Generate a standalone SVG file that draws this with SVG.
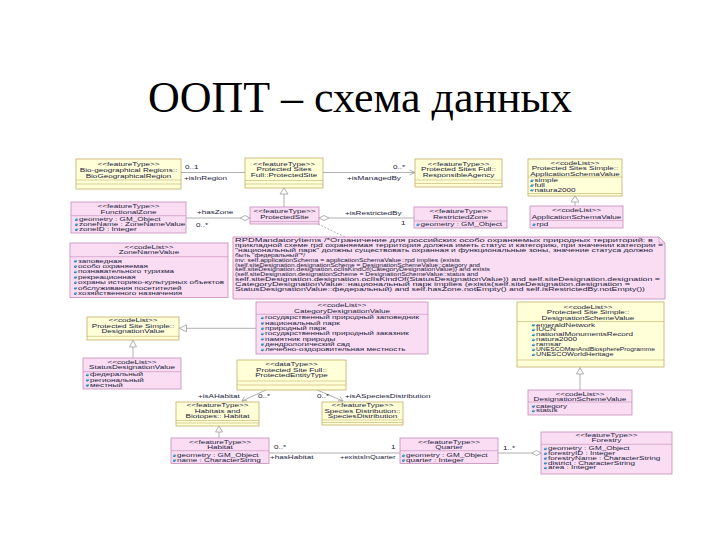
<svg xmlns="http://www.w3.org/2000/svg" xmlns:xlink="http://www.w3.org/1999/xlink" width="720" height="540" viewBox="0 0 720 540">
<style>
.y{fill:#FFFFD8;stroke:#C2AC68;stroke-width:0.8}
.p{fill:#FADDF3;stroke:#C48CBA;stroke-width:0.8}
.sy{stroke:#C2AC68;stroke-width:0.6}
.sp{stroke:#C48CBA;stroke-width:0.6}
.t{font-family:"Liberation Sans",Arial,sans-serif;font-size:5.6px;fill:#22223a}
.m{text-anchor:middle}
.n{font-family:"Liberation Sans",Arial,sans-serif;font-size:5.2px;fill:#22223a}
.ln{stroke:#9c9c9c;stroke-width:0.8;fill:none}
.gen{fill:#ffffff;stroke:#9c9c9c;stroke-width:0.8}
.ttl{font-family:"Liberation Serif","Times New Roman",serif;font-size:44px;fill:#000}
</style>
<defs>
<symbol id="ic" viewBox="0 0 4 3" width="4" height="3"><polygon points="0,2.2 1.6,0 4,0.7 2.4,3" fill="#2f86b4"/><polygon points="1.6,0 4,0.7 2.8,1.4 0.8,1" fill="#8cc8e4"/></symbol>
</defs>
<rect width="720" height="540" fill="#ffffff"/>
<text class="ttl" x="360" y="112" text-anchor="middle">ООПТ – схема данных</text>

<g id="connectors">
<line class="ln" x1="181" y1="172.5" x2="245" y2="172.5"/>
<line class="ln" x1="323" y1="172.5" x2="415" y2="172.5"/>
<polyline class="ln" points="409.5,170 415,172.5 409.5,175"/>
<line class="ln" x1="284" y1="194" x2="284" y2="207"/>
<polygon class="gen" points="284,188 280,194 288,194"/>
<line class="ln" x1="575" y1="202" x2="575" y2="206"/>
<polygon class="gen" points="575,196 571,202 579,202"/>
<line class="ln" x1="186" y1="218" x2="240" y2="218"/>
<polygon class="gen" points="240,218 245,215.5 250,218 245,220.5"/>
<line class="ln" x1="329" y1="218" x2="414" y2="218"/>
<polygon class="gen" points="319,218 324,215.5 329,218 324,220.5"/>
<line class="ln" x1="318" y1="224" x2="345" y2="237" stroke-dasharray="2,1.5"/>
<line class="ln" x1="187" y1="328.3" x2="256" y2="328.3"/>
<polygon class="gen" points="179.5,328.3 186.5,324.8 186.5,331.8"/>
<line class="ln" x1="133" y1="347" x2="133" y2="358"/>
<polygon class="gen" points="133,340 129.5,347 136.5,347"/>
<line class="ln" x1="580" y1="374" x2="580" y2="390"/>
<polygon class="gen" points="580,367.5 576.5,374 583.5,374"/>
<line class="ln" x1="266" y1="390" x2="242" y2="401"/>
<polyline class="ln" points="244.5,396.6 242,401 247,400.6"/>
<line class="ln" x1="317" y1="390" x2="343" y2="401"/>
<polyline class="ln" points="338,400.8 343,401 340.2,396.8"/>
<line class="ln" x1="219" y1="432" x2="219" y2="438"/>
<polygon class="gen" points="219,426 215.5,432 222.5,432"/>
<line class="ln" x1="269" y1="453" x2="400" y2="453"/>
<line class="ln" x1="498" y1="453" x2="532" y2="453"/>
<polygon class="gen" points="532,453 536.5,450.5 541,453 536.5,455.5"/>
<text class="t" transform="translate(185 169) scale(1.45 1)">0..1</text>
<text class="t" transform="translate(184 180) scale(1.45 1)">+isInRegion</text>
<text class="t" transform="translate(393 169) scale(1.45 1)">0..*</text>
<text class="t" transform="translate(347 179.5) scale(1.45 1)">+isManagedBy</text>
<text class="t" transform="translate(197 214) scale(1.45 1)">+hasZone</text>
<text class="t" transform="translate(196 227) scale(1.45 1)">0..*</text>
<text class="t" transform="translate(345 215) scale(1.45 1)">+isRestrictedBy</text>
<text class="t" transform="translate(401 225) scale(1.45 1)">1</text>
<text class="t" transform="translate(198 397.5) scale(1.45 1)">+isAHabitat</text>
<text class="t" transform="translate(258 397.5) scale(1.45 1)">0..*</text>
<text class="t" transform="translate(317 397.5) scale(1.45 1)">0..*</text>
<text class="t" transform="translate(345 397.5) scale(1.45 1)">+isASpeciesDistribution</text>
<text class="t" transform="translate(274 448.5) scale(1.45 1)">0..*</text>
<text class="t" transform="translate(270 458.5) scale(1.45 1)">+hasHabitat</text>
<text class="t" transform="translate(391 448.5) scale(1.45 1)">1</text>
<text class="t" transform="translate(340 458.5) scale(1.35 1)">+existsInQuarter</text>
<text class="t" transform="translate(503 450) scale(1.45 1)">1..*</text>
</g>

<g id="bioRegion">
<rect class="y" x="76" y="159" width="105" height="30"/>
<line class="sy" x1="76" y1="180" x2="181" y2="180"/><line class="sy" x1="76" y1="184" x2="181" y2="184"/>
<text class="t m" transform="translate(128.5 166) scale(1.45 1)">&lt;&lt;featureType&gt;&gt;</text>
<text class="t m" transform="translate(128.5 172) scale(1.45 1)">Bio-geographical Regions::</text>
<text class="t m" transform="translate(128.5 177.5) scale(1.45 1)">BioGeographicalRegion</text>
</g>

<g id="protectedSiteFull">
<rect class="y" x="245" y="158" width="78" height="30"/>
<line class="sy" x1="245" y1="180.5" x2="323" y2="180.5"/><line class="sy" x1="245" y1="184" x2="323" y2="184"/>
<text class="t m" transform="translate(284 165.5) scale(1.45 1)">&lt;&lt;featureType&gt;&gt;</text>
<text class="t m" transform="translate(284 171) scale(1.45 1)">Protected Sites</text>
<text class="t m" transform="translate(284 176.5) scale(1.45 1)">Full::ProtectedSite</text>
</g>

<g id="responsibleAgency">
<rect class="y" x="415" y="159" width="87" height="28"/>
<line class="sy" x1="415" y1="180" x2="502" y2="180"/><line class="sy" x1="415" y1="183.5" x2="502" y2="183.5"/>
<text class="t m" transform="translate(458.5 165.5) scale(1.45 1)">&lt;&lt;featureType&gt;&gt;</text>
<text class="t m" transform="translate(458.5 171) scale(1.45 1)">Protected Sites Full::</text>
<text class="t m" transform="translate(458.5 176.5) scale(1.45 1)">ResponsibleAgency</text>
</g>

<g id="appSchemaSimple">
<rect class="y" x="528" y="159" width="94" height="37"/>
<line class="sy" x1="528" y1="177" x2="622" y2="177"/><line class="sy" x1="528" y1="193.5" x2="622" y2="193.5"/>
<text class="t m" transform="translate(575 164.5) scale(1.45 1)">&lt;&lt;codeList&gt;&gt;</text>
<text class="t m" transform="translate(575 170) scale(1.45 1)">Protected Sites Simple::</text>
<text class="t m" transform="translate(575 175.5) scale(1.45 1)">ApplicationSchemaValue</text>
<use xlink:href="#ic" x="530" y="179.2"/><text class="t" transform="translate(534.5 182) scale(1.45 1)">simple</text>
<use xlink:href="#ic" x="530" y="184"/><text class="t" transform="translate(534.5 186.8) scale(1.45 1)">full</text>
<use xlink:href="#ic" x="530" y="188.8"/><text class="t" transform="translate(534.5 191.6) scale(1.45 1)">natura2000</text>
</g>

<g id="appSchemaValue">
<rect class="p" x="530" y="206" width="93" height="22"/>
<line class="sp" x1="530" y1="220.5" x2="623" y2="220.5"/>
<text class="t m" transform="translate(576.5 212.3) scale(1.45 1)">&lt;&lt;codeList&gt;&gt;</text>
<text class="t m" transform="translate(576.5 218.5) scale(1.45 1)">ApplicationSchemaValue</text>
<use xlink:href="#ic" x="532" y="223.2"/><text class="t" transform="translate(536.5 226) scale(1.45 1)">rpd</text>
</g>

<g id="restrictedZone">
<rect class="p" x="414" y="207" width="93" height="21"/>
<line class="sp" x1="414" y1="221" x2="507" y2="221"/>
<text class="t m" transform="translate(460.5 213) scale(1.45 1)">&lt;&lt;featureType&gt;&gt;</text>
<text class="t m" transform="translate(460.5 218.8) scale(1.45 1)">RestrictedZone</text>
<use xlink:href="#ic" x="416" y="223.2"/><text class="t" transform="translate(420.5 226) scale(1.45 1)">geometry : GM_Object</text>
</g>

<g id="protectedSite">
<rect class="p" x="250" y="207" width="69" height="17"/>
<line class="sp" x1="250" y1="221.5" x2="319" y2="221.5"/>
<text class="t m" transform="translate(284.5 213.3) scale(1.45 1)">&lt;&lt;featureType&gt;&gt;</text>
<text class="t m" transform="translate(284.5 219.3) scale(1.45 1)">ProtectedSite</text>
</g>

<g id="functionalZone">
<rect class="p" x="71" y="202" width="115" height="31"/>
<line class="sp" x1="71" y1="215.7" x2="186" y2="215.7"/>
<text class="t m" transform="translate(128.5 208.3) scale(1.45 1)">&lt;&lt;featureType&gt;&gt;</text>
<text class="t m" transform="translate(128.5 213.8) scale(1.45 1)">FunctionalZone</text>
<use xlink:href="#ic" x="74.5" y="218.2"/><text class="t" transform="translate(79 221) scale(1.45 1)">geometry : GM_Object</text>
<use xlink:href="#ic" x="74.5" y="223.2"/><text class="t" transform="translate(79 226) scale(1.45 1)">zoneName : ZoneNameValue</text>
<use xlink:href="#ic" x="74.5" y="228.2"/><text class="t" transform="translate(79 231) scale(1.45 1)">zoneID : Integer</text>
</g>

<g id="zoneNameValue">
<rect class="p" x="70" y="243" width="158" height="54.5"/>
<line class="sp" x1="70" y1="256.7" x2="228" y2="256.7"/>
<text class="t m" transform="translate(149 249) scale(1.45 1)">&lt;&lt;codeList&gt;&gt;</text>
<text class="t m" transform="translate(149 254.3) scale(1.45 1)">ZoneNameValue</text>
<use xlink:href="#ic" x="73.5" y="259.7"/><text class="t" transform="translate(78 262.5) scale(1.45 1)">заповедная</text>
<use xlink:href="#ic" x="73.5" y="265.1"/><text class="t" transform="translate(78 267.9) scale(1.45 1)">особо охраняемая</text>
<use xlink:href="#ic" x="73.5" y="270.5"/><text class="t" transform="translate(78 273.3) scale(1.45 1)">познавательного туризма</text>
<use xlink:href="#ic" x="73.5" y="275.9"/><text class="t" transform="translate(78 278.7) scale(1.45 1)">рекреационная</text>
<use xlink:href="#ic" x="73.5" y="281.3"/><text class="t" transform="translate(78 284.1) scale(1.45 1)">охраны историко-культурных объектов</text>
<use xlink:href="#ic" x="73.5" y="286.7"/><text class="t" transform="translate(78 289.5) scale(1.45 1)">обслуживания посетителей</text>
<use xlink:href="#ic" x="73.5" y="292.1"/><text class="t" transform="translate(78 294.9) scale(1.45 1)">хозяйственного назначения</text>
</g>

<g id="note">
<path d="M233,237 H659 L665,243 V299 H233 Z" fill="#FADDF3" stroke="#C48CBA" stroke-width="0.8"/>
<path d="M659,237 V243 H665" fill="none" stroke="#C48CBA" stroke-width="0.6"/>
<text class="n" x="235" y="242" textLength="418" lengthAdjust="spacingAndGlyphs">RPDMandatoryItems /*Ограничение для российских особо охраняемых природных территорий: в</text>
<text class="n" x="235" y="246.9" textLength="428" lengthAdjust="spacingAndGlyphs">прикладной схеме rpd охраняемая территория должна иметь статус и категорию, при значении категории =</text>
<text class="n" x="235" y="251.8" textLength="418" lengthAdjust="spacingAndGlyphs">"национальный парк" должны существовать охранная и функциональные зоны, значение статуса должно</text>
<text class="n" x="235" y="256.7" textLength="70" lengthAdjust="spacingAndGlyphs">быть "федеральный"*/</text>
<text class="n" x="235" y="261.6" textLength="225" lengthAdjust="spacingAndGlyphs">inv: self.applicationSchema = applicationSchemaValue::rpd implies (exists</text>
<text class="n" x="235" y="266.5" textLength="245" lengthAdjust="spacingAndGlyphs">(self.siteDesignation.designationScheme = DesignationSchemeValue::category and</text>
<text class="n" x="235" y="271.4" textLength="255" lengthAdjust="spacingAndGlyphs">self.siteDesignation.designation.oclIsKindOf(CategoryDesignationValue)) and exists</text>
<text class="n" x="235" y="276.3" textLength="243" lengthAdjust="spacingAndGlyphs">(self.siteDesignation.designationScheme = DesignationSchemeValue::status and</text>
<text class="n" x="235" y="281.2" textLength="425" lengthAdjust="spacingAndGlyphs">self.siteDesignation.designation.oclIsKindOf(StatusDesignationValue)) and self.siteDesignation.designation =</text>
<text class="n" x="235" y="286.1" textLength="395" lengthAdjust="spacingAndGlyphs">CategoryDesignationValue::национальный парк implies (exists(self.siteDesignation.designation =</text>
<text class="n" x="235" y="291" textLength="410" lengthAdjust="spacingAndGlyphs">StatusDesignationValue::федеральный) and self.hasZone.notEmpty() and self.isRestrictedBy.notEmpty())</text>
</g>

<g id="designationValue">
<rect class="y" x="87" y="317" width="92" height="23"/>
<line class="sy" x1="87" y1="336.3" x2="179" y2="336.3"/>
<text class="t m" transform="translate(133 322) scale(1.45 1)">&lt;&lt;codeList&gt;&gt;</text>
<text class="t m" transform="translate(133 327.5) scale(1.45 1)">Protected Site Simple::</text>
<text class="t m" transform="translate(133 333) scale(1.45 1)">DesignationValue</text>
</g>

<g id="statusDesignationValue">
<rect class="p" x="83" y="358" width="98" height="31"/>
<line class="sp" x1="83" y1="371.7" x2="181" y2="371.7"/>
<text class="t m" transform="translate(132 363.5) scale(1.45 1)">&lt;&lt;codeList&gt;&gt;</text>
<text class="t m" transform="translate(132 369) scale(1.45 1)">StatusDesignationValue</text>
<use xlink:href="#ic" x="85.5" y="373.5"/><text class="t" transform="translate(90 376.3) scale(1.45 1)">федеральный</text>
<use xlink:href="#ic" x="85.5" y="378.7"/><text class="t" transform="translate(90 381.5) scale(1.45 1)">региональный</text>
<use xlink:href="#ic" x="85.5" y="383.9"/><text class="t" transform="translate(90 386.7) scale(1.45 1)">местный</text>
</g>

<g id="categoryDesignationValue">
<rect class="p" x="256" y="302" width="172" height="52"/>
<line class="sp" x1="256" y1="314.3" x2="428" y2="314.3"/>
<text class="t m" transform="translate(342 307) scale(1.45 1)">&lt;&lt;codeList&gt;&gt;</text>
<text class="t m" transform="translate(342 312.6) scale(1.45 1)">CategoryDesignationValue</text>
<use xlink:href="#ic" x="260.5" y="316.6"/><text class="t" transform="translate(265 319.4) scale(1.45 1)">государственный природный заповедник</text>
<use xlink:href="#ic" x="260.5" y="321.9"/><text class="t" transform="translate(265 324.7) scale(1.45 1)">национальный парк</text>
<use xlink:href="#ic" x="260.5" y="327.2"/><text class="t" transform="translate(265 330) scale(1.45 1)">природный парк</text>
<use xlink:href="#ic" x="260.5" y="332.5"/><text class="t" transform="translate(265 335.3) scale(1.45 1)">государственный природный заказник</text>
<use xlink:href="#ic" x="260.5" y="337.8"/><text class="t" transform="translate(265 340.6) scale(1.45 1)">памятник природы</text>
<use xlink:href="#ic" x="260.5" y="343.1"/><text class="t" transform="translate(265 345.9) scale(1.45 1)">дендрологический сад</text>
<use xlink:href="#ic" x="260.5" y="348.4"/><text class="t" transform="translate(265 351.2) scale(1.45 1)">лечебно-оздоровительная местность</text>
</g>

<g id="protectedEntityType">
<rect class="y" x="237" y="360" width="109" height="30"/>
<line class="sy" x1="237" y1="381" x2="346" y2="381"/><line class="sy" x1="237" y1="385" x2="346" y2="385"/>
<text class="t m" transform="translate(291.5 366) scale(1.45 1)">&lt;&lt;dataType&gt;&gt;</text>
<text class="t m" transform="translate(291.5 371.7) scale(1.45 1)">Protected Site Full::</text>
<text class="t m" transform="translate(291.5 377.3) scale(1.45 1)">ProtectedEntityType</text>
</g>

<g id="habitatsBiotopes">
<rect class="y" x="176" y="402" width="83" height="24"/>
<line class="sy" x1="176" y1="420.5" x2="259" y2="420.5"/><line class="sy" x1="176" y1="423" x2="259" y2="423"/>
<text class="t m" transform="translate(217.5 407.3) scale(1.45 1)">&lt;&lt;featureType&gt;&gt;</text>
<text class="t m" transform="translate(217.5 412.5) scale(1.45 1)">Habitats and</text>
<text class="t m" transform="translate(217.5 418) scale(1.45 1)">Biotopes:: Habitat</text>
</g>

<g id="speciesDistribution">
<rect class="y" x="322" y="402" width="81" height="23"/>
<line class="sy" x1="322" y1="420" x2="403" y2="420"/><line class="sy" x1="322" y1="422.5" x2="403" y2="422.5"/>
<text class="t m" transform="translate(362.5 407.3) scale(1.45 1)">&lt;&lt;featureType&gt;&gt;</text>
<text class="t m" transform="translate(362.5 412.5) scale(1.45 1)">Species Distribution::</text>
<text class="t m" transform="translate(362.5 417.8) scale(1.45 1)">SpeciesDistribution</text>
</g>

<g id="habitat">
<rect class="p" x="171" y="438" width="98" height="25.5"/>
<line class="sp" x1="171" y1="450.7" x2="269" y2="450.7"/>
<text class="t m" transform="translate(220 444) scale(1.45 1)">&lt;&lt;featureType&gt;&gt;</text>
<text class="t m" transform="translate(220 449) scale(1.45 1)">Habitat</text>
<use xlink:href="#ic" x="172.5" y="454.2"/><text class="t" transform="translate(177 457) scale(1.45 1)">geometry : GM_Object</text>
<use xlink:href="#ic" x="172.5" y="459"/><text class="t" transform="translate(177 461.8) scale(1.45 1)">name : CharacterString</text>
</g>

<g id="quarter">
<rect class="p" x="400" y="438" width="98" height="25.5"/>
<line class="sp" x1="400" y1="450.7" x2="498" y2="450.7"/>
<text class="t m" transform="translate(449 444) scale(1.45 1)">&lt;&lt;featureType&gt;&gt;</text>
<text class="t m" transform="translate(449 449) scale(1.45 1)">Quarter</text>
<use xlink:href="#ic" x="401.5" y="454.2"/><text class="t" transform="translate(406 457) scale(1.45 1)">geometry : GM_Object</text>
<use xlink:href="#ic" x="401.5" y="459"/><text class="t" transform="translate(406 461.8) scale(1.45 1)">quarter : Integer</text>
</g>

<g id="forestry">
<rect class="p" x="541" y="432" width="131" height="42"/>
<line class="sp" x1="541" y1="444.3" x2="672" y2="444.3"/>
<text class="t m" transform="translate(606.5 437.3) scale(1.45 1)">&lt;&lt;featureType&gt;&gt;</text>
<text class="t m" transform="translate(606.5 442.3) scale(1.45 1)">Forestry</text>
<use xlink:href="#ic" x="543.5" y="447.4"/><text class="t" transform="translate(548 450.2) scale(1.45 1)">geometry : GM_Object</text>
<use xlink:href="#ic" x="543.5" y="452.2"/><text class="t" transform="translate(548 455) scale(1.45 1)">forestryID : Integer</text>
<use xlink:href="#ic" x="543.5" y="457"/><text class="t" transform="translate(548 459.8) scale(1.45 1)">forestryName : CharacterString</text>
<use xlink:href="#ic" x="543.5" y="461.8"/><text class="t" transform="translate(548 464.6) scale(1.45 1)">district : CharacterString</text>
<use xlink:href="#ic" x="543.5" y="466.6"/><text class="t" transform="translate(548 469.4) scale(1.45 1)">area : Integer</text>
</g>

<g id="designationSchemeSimple">
<rect class="y" x="517" y="302" width="147" height="65"/>
<line class="sy" x1="517" y1="321.5" x2="664" y2="321.5"/><line class="sy" x1="517" y1="360" x2="664" y2="360"/>
<text class="t m" transform="translate(588 309) scale(1.45 1)">&lt;&lt;codeList&gt;&gt;</text>
<text class="t m" transform="translate(588 314.4) scale(1.45 1)">Protected Site Simple::</text>
<text class="t m" transform="translate(588 319.6) scale(1.45 1)">DesignationSchemeValue</text>
<use xlink:href="#ic" x="531.5" y="323.7"/><text class="t" transform="translate(536 326.5) scale(1.45 1)">emeraldNetwork</text>
<use xlink:href="#ic" x="531.5" y="328.6"/><text class="t" transform="translate(536 331.4) scale(1.45 1)">IUCN</text>
<use xlink:href="#ic" x="531.5" y="333.6"/><text class="t" transform="translate(536 336.4) scale(1.45 1)">nationalMonumentsRecord</text>
<use xlink:href="#ic" x="531.5" y="338.5"/><text class="t" transform="translate(536 341.3) scale(1.45 1)">natura2000</text>
<use xlink:href="#ic" x="531.5" y="343.5"/><text class="t" transform="translate(536 346.3) scale(1.45 1)">ramsar</text>
<use xlink:href="#ic" x="531.5" y="348.4"/><text class="t" transform="translate(536 351.2) scale(1.2 1)">UNESCOManAndBiosphereProgramme</text>
<use xlink:href="#ic" x="531.5" y="353.4"/><text class="t" transform="translate(536 356.2) scale(1.3 1)">UNESCOWorldHeritage</text>
</g>

<g id="designationSchemeValue">
<rect class="p" x="528" y="390" width="104" height="25"/>
<line class="sp" x1="528" y1="402" x2="632" y2="402"/>
<text class="t m" transform="translate(580 395.5) scale(1.45 1)">&lt;&lt;codeList&gt;&gt;</text>
<text class="t m" transform="translate(580 400.5) scale(1.45 1)">DesignationSchemeValue</text>
<use xlink:href="#ic" x="531.5" y="404.9"/><text class="t" transform="translate(536 407.7) scale(1.45 1)">category</text>
<use xlink:href="#ic" x="531.5" y="409.5"/><text class="t" transform="translate(536 412.3) scale(1.45 1)">status</text>
</g>
</svg>
